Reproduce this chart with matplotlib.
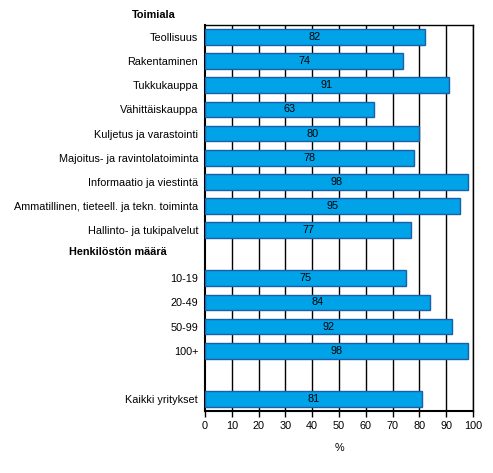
import matplotlib
matplotlib.use("Agg")
import matplotlib.pyplot as plt

plt.rcParams['font.family'] = ['Liberation Sans', 'DejaVu Sans']

# Category labels top to bottom; '' marks the header/blank slots
labels = ["Teollisuus", "Rakentaminen", "Tukkukauppa", "Vähittäiskauppa",
          "Kuljetus ja varastointi", "Majoitus- ja ravintolatoiminta",
          "Informaatio ja viestintä", "Ammatillinen, tieteell. ja tekn. toiminta",
          "Hallinto- ja tukipalvelut", "",
          "10-19", "20-49", "50-99", "100+", "", "Kaikki yritykset"]
values = [82, 74, 91, 63, 80, 78, 98, 95, 77, None,
          75, 84, 92, 98, None, 81]
headers = ["Toimiala", "Henkilöstön määrä"]
xticks = list(range(0, 101, 10))

W, H = 493, 473
fs = 7.8

fig = plt.figure(figsize=(W / 100, H / 100), dpi=100)
ax = fig.add_axes([205 / W, 1 - 411 / H, 268 / W, 386 / H])

pos = list(range(len(labels)))
for y, v in zip(pos, values):
    if v is None:
        continue
    ax.barh(y, v, height=0.65, color='#00a2e8', edgecolor='#1a5fa8', linewidth=1, zorder=3)
    ax.text(v / 2, y, str(v), ha='center', va='center', fontsize=fs, zorder=4)

ax.set_ylim(len(labels) - 0.5, -0.5)
ax.set_xlim(0, 100)
ax.set_yticks(pos)
ax.set_yticklabels(labels, fontsize=fs)
ax.tick_params(axis='y', length=0, pad=5)
ax.set_xticks(xticks)
ax.set_xticklabels([str(t) for t in xticks], fontsize=fs)
ax.tick_params(axis='x', length=4, width=1, direction='out', pad=3)
ax.set_xlabel("%", fontsize=fs, labelpad=9)

for t in xticks[1:]:
    ax.axvline(t, color='black', linewidth=1, zorder=1)

for s in ['top', 'right']:
    ax.spines[s].set_linewidth(1)
for s in ['left', 'bottom']:
    ax.spines[s].set_linewidth(1.5)

# section headers (placed in figure pixels)
fig.text(154 / W, 1 - 15 / H, headers[0], fontsize=fs, fontweight='bold',
         ha='center', va='center')
fig.text(118 / W, 1 - 252 / H, headers[1], fontsize=fs, fontweight='bold',
         ha='center', va='center')

fig.savefig("out.png", dpi=100)
